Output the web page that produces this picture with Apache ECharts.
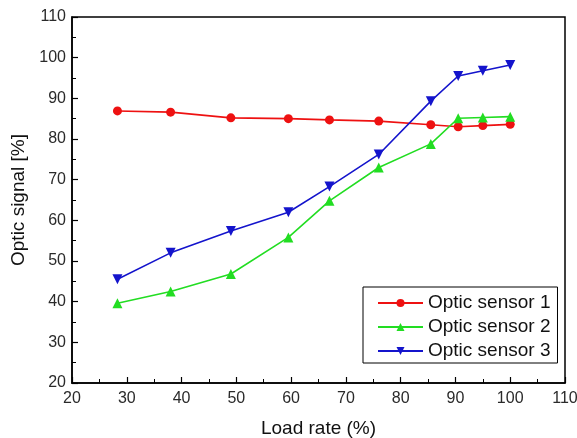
<!DOCTYPE html>
<html>
<head>
<meta charset="utf-8">
<script src="https://cdn.jsdelivr.net/npm/echarts@6/dist/echarts.min.js"></script>
<style>
html,body{margin:0;padding:0;background:#fff;}
#chart{width:577px;height:438px;}
</style>
</head>
<body>
<div id="chart"></div>
<script>
// load rate (%) shared by all three sensors
var loadRate = [28.3, 38, 49, 59.5, 67, 76, 85.5, 90.5, 95, 100];
var sensor1 = [86.9, 86.6, 85.2, 85.0, 84.7, 84.4, 83.5, 83.0, 83.3, 83.6];
var sensor2 = [39.6, 42.5, 46.8, 55.8, 64.8, 73.0, 78.8, 85.1, 85.3, 85.5];
var sensor3 = [45.5, 52.0, 57.4, 62.0, 68.3, 76.2, 89.3, 95.5, 96.8, 98.2];
var names = ['Optic sensor 1', 'Optic sensor 2', 'Optic sensor 3'];

function pairs(ys) {
	return loadRate.map(function(x, i) { return [x, ys[i]]; });
}

var font = 'Liberation Sans, Arial, sans-serif';

var axisCommon = {
	type: 'value',
	interval: 10,
	axisLine: { lineStyle: { color: '#000', width: 1.5 } },
	axisTick: { inside: true, length: 6, lineStyle: { color: '#000', width: 1.2 } },
	minorTick: { show: true, splitNumber: 2, length: 4, lineStyle: { color: '#000', width: 1 } },
	splitLine: { show: false },
	axisLabel: { color: '#2a2a2a', fontSize: 16, fontFamily: font },
	nameLocation: 'middle',
	nameTextStyle: { color: '#111', fontSize: 19, fontFamily: font }
};

var chart = echarts.init(document.getElementById('chart'));

chart.setOption({
	backgroundColor: '#fff',
	animation: false,
	grid: {
		left: 72, right: 12, top: 17, bottom: 55,
		show: true, borderColor: '#000', borderWidth: 1.5,
		containLabel: false,
		outerBoundsMode: 'none'
	},
	xAxis: Object.assign({}, axisCommon, {
		min: 20, max: 110,
		name: 'Load rate (%)',
		nameGap: 36,
		axisLabel: Object.assign({}, axisCommon.axisLabel, { margin: 8 })
	}),
	yAxis: Object.assign({}, axisCommon, {
		min: 20, max: 110,
		name: 'Optic signal [%]',
		nameGap: 44,
		axisLabel: Object.assign({}, axisCommon.axisLabel, { margin: 6 })
	}),
	legend: {
		orient: 'vertical',
		left: 363, top: 287,
		width: 194,
		borderColor: '#000', borderWidth: 1, borderRadius: 0,
		padding: [6, 7, 2, 14],
		itemGap: 4,
		itemWidth: 45, itemHeight: 10,
		textStyle: { color: '#111', fontSize: 19, lineHeight: 20, fontFamily: font },
		data: names
	},
	series: [
		{
			name: names[0], type: 'line', data: pairs(sensor1),
			symbol: 'circle', symbolSize: 9,
			lineStyle: { color: '#ee1111', width: 1.6 },
			itemStyle: { color: '#ee1111' }
		},
		{
			name: names[1], type: 'line', data: pairs(sensor2),
			symbol: 'triangle', symbolSize: 10,
			lineStyle: { color: '#22dd22', width: 1.6 },
			itemStyle: { color: '#22dd22' }
		},
		{
			name: names[2], type: 'line', data: pairs(sensor3),
			symbol: 'triangle', symbolSize: 10, symbolRotate: 180,
			lineStyle: { color: '#1414cc', width: 1.6 },
			itemStyle: { color: '#1414cc' }
		}
	]
});
</script>
</body>
</html>
